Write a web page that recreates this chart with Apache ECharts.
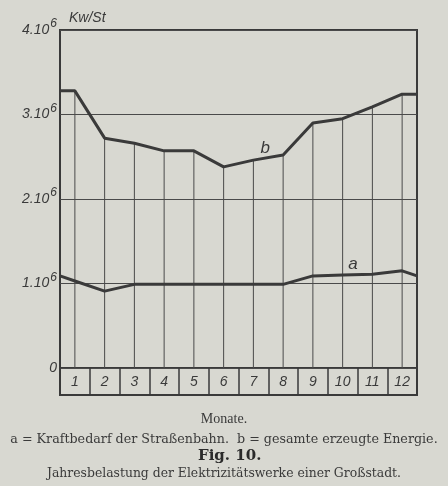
<!DOCTYPE html>
<html><head><meta charset="utf-8">
<script src="https://cdn.jsdelivr.net/npm/echarts@6/dist/echarts.min.js"></script>
<style>html,body{margin:0;padding:0;background:#d8d8d1}#c{width:448px;height:486px}</style>
</head><body><div id="c"></div>
<script>
// Data (values in units of 10^6 Kw/St)
const months = [1,2,3,4,5,6,7,8,9,10,11,12];
const monthLabels = ['1','2','3','4','5','6','7','8','9','10','11','12'];
const bValues = [3.28, 2.72, 2.66, 2.57, 2.57, 2.38, 2.46, 2.52, 2.90, 2.95, 3.09, 3.24]; // gesamte erzeugte Energie
const aValues = [1.03, 0.91, 0.99, 0.99, 0.99, 0.99, 0.99, 0.99, 1.09, 1.10, 1.11, 1.15]; // Kraftbedarf der Straßenbahn
const bEdges = [3.28, 3.24];   // values at the left/right frame
const aEdges = [1.09, 1.09];
const yTickLabels = ['0', '1.10', '2.10', '3.10', '4.10'];
const unitLabel = 'Kw/St';

const ink = '#3a3a3a';
const hand = "'Liberation Sans', sans-serif";
const serif = "'Liberation Serif', serif";
const wideSerif = "'DejaVu Serif', serif";

function withEdges(vals, edges){
  const pts = [[0.5, edges[0]]];
  months.forEach((m,i)=>pts.push([m, vals[i]]));
  pts.push([12.5, edges[1]]);
  return pts;
}

const chart = echarts.init(document.getElementById('c'), null, {renderer:'canvas'});
chart.setOption({
  backgroundColor: '#d8d8d1',
  animation: false,
  grid: [
    {left: 60, right: 31, top: 30, height: 338, show: true, borderColor: ink, borderWidth: 2, backgroundColor: 'transparent'},
    {left: 60, right: 31, top: 368, height: 27, show: true, borderColor: ink, borderWidth: 2, backgroundColor: 'transparent'}
  ],
  xAxis: [
    {gridIndex: 0, type: 'value', min: 0.5, max: 12.5, axisLine:{show:false}, axisTick:{show:false}, axisLabel:{show:false}, splitLine:{show:false}},
    {gridIndex: 1, type: 'category', data: monthLabels, boundaryGap: true,
     axisLine:{show:false}, axisTick:{show:false},
     splitLine:{show:true, lineStyle:{color: ink, width: 1.5}},
     axisLabel:{inside:true, margin: 6, color: ink, fontFamily: hand, fontStyle:'italic', fontSize: 14}}
  ],
  yAxis: [
    {gridIndex: 0, type: 'value', min: 0, max: 4, interval: 1,
     axisLine:{show:false}, axisTick:{show:false},
     splitLine:{show:true, lineStyle:{color:'#4a4a4a', width:1}},
     axisLabel:{margin: 3, color: ink,
       formatter: v => v === 0 ? '{m|' + yTickLabels[0] + '}' : '{m|' + yTickLabels[v] + '}{s|6}',
       rich: {
         m: {fontFamily: hand, fontStyle:'italic', fontSize: 14, color: ink, padding:[0,0,0,0]},
         s: {fontFamily: hand, fontStyle:'italic', fontSize: 12, color: ink, padding:[0,0,12,1]}
       }}},
    {gridIndex: 1, type: 'value', show: false}
  ],
  title: [
    {text: unitLabel, left: 64, top: 6, textStyle:{fontFamily: hand, fontStyle:'italic', fontWeight:'normal', fontSize: 14, color: ink}},
    {text: 'Monate.', left: 'center', top: 407, textStyle:{fontFamily: serif, fontWeight:'normal', fontSize: 14, color: ink}},
    {text: 'a = Kraftbedarf der Straßenbahn.  b = gesamte erzeugte Energie.', left: 'center', top: 428, textStyle:{fontFamily: wideSerif, fontWeight:'normal', fontSize: 12.7, color: ink}},
    {text: 'Fig. 10.', left: 193, top: 444, textStyle:{fontFamily: wideSerif, fontWeight:'bold', fontSize: 15, color: '#2a2a2a'}},
    {text: 'Jahresbelastung der Elektrizitätswerke einer Großstadt.', left: 'center', top: 463, textStyle:{fontFamily: wideSerif, fontWeight:'normal', fontSize: 12.4, color: ink}}
  ],
  series: [
    {type: 'bar', xAxisIndex: 0, yAxisIndex: 0, barWidth: 1, itemStyle:{color:'#4a4a4a'},
     data: months.map((m,i)=>[m, bValues[i]]), z: 1},
    {type: 'line', xAxisIndex: 0, yAxisIndex: 0, data: withEdges(bValues, bEdges), symbol:'none',
     lineStyle:{color: ink, width: 3}, z: 3,
     markPoint:{symbol:'circle', symbolSize: 0, data:[{coord:[7.4, 2.6], label:{show:true, formatter:'b', color: ink, fontFamily: hand, fontStyle:'italic', fontSize: 17}}]}},
    {type: 'line', xAxisIndex: 0, yAxisIndex: 0, data: withEdges(aValues, aEdges), symbol:'none',
     lineStyle:{color: ink, width: 3}, z: 3,
     markPoint:{symbol:'circle', symbolSize: 0, data:[{coord:[10.35, 1.23], label:{show:true, formatter:'a', color: ink, fontFamily: hand, fontStyle:'italic', fontSize: 17}}]}}
  ]
});
</script></body></html>
